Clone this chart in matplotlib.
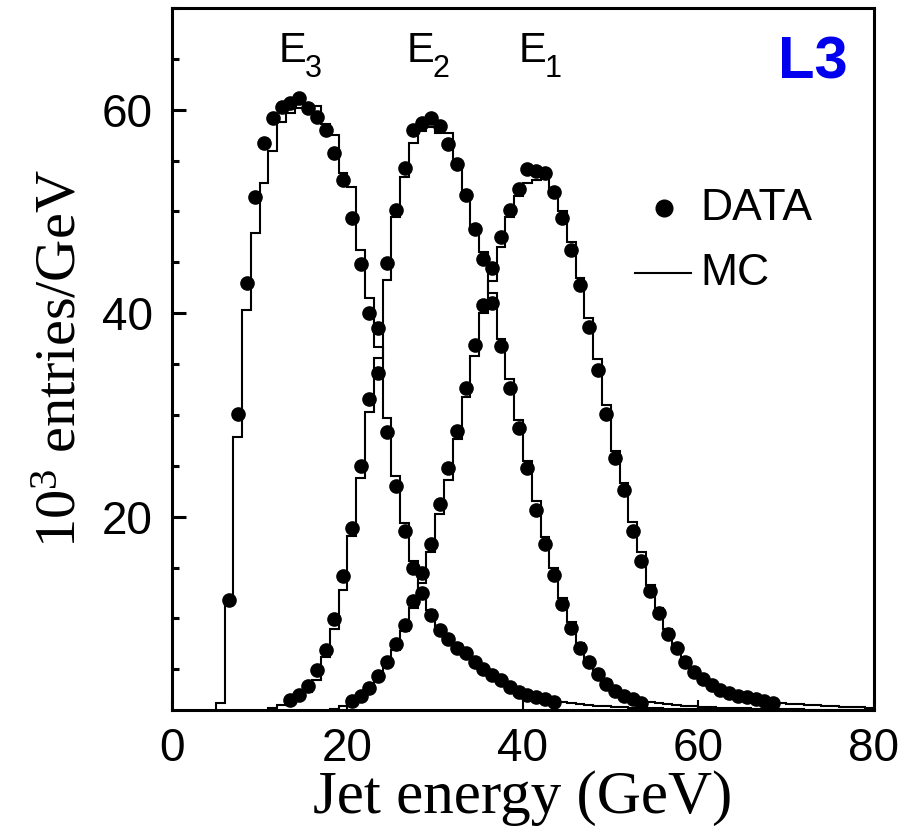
import numpy as np
import matplotlib
matplotlib.use("Agg")
import matplotlib.pyplot as plt
from matplotlib.ticker import MultipleLocator

plt.rcParams["mathtext.fontset"] = "custom"
plt.rcParams["mathtext.rm"] = "Liberation Serif"
plt.rcParams["mathtext.it"] = "Liberation Serif"

# data points, bin centres start at the given energy, 1 GeV bins
e3_start = 6.5
e3_data = [11.8, 30.1, 43.0, 51.4, 56.7, 59.2, 60.3, 60.7, 61.2, 60.2, 59.3, 58.0,
           55.7, 53.1, 49.4, 44.8, 40.0, 34.1, 28.3, 23.0, 18.6, 15.0, 12.5, 10.3,
           8.9, 8.0, 7.1, 6.6, 5.75, 5.0, 4.4, 3.9, 3.3, 2.8, 2.5, 2.25, 2.05, 1.8]
e2_start = 13.5
e2_data = [1.97, 2.5, 3.4, 4.9, 6.9, 9.95, 14.2, 18.9, 25.0, 31.6, 38.5, 44.9,
           50.1, 54.3, 58.0, 58.7, 59.2, 58.4, 56.6, 54.7, 51.6, 48.3, 45.3, 41.0,
           36.8, 32.6, 28.7, 24.8, 20.7, 17.3, 14.3, 11.4, 9.1, 7.1, 5.75, 4.5,
           3.6, 2.9, 2.4, 2.05, 1.7]
e1_start = 20.5
e1_data = [1.9, 2.4, 3.2, 4.3, 5.7, 7.5, 9.4, 11.7, 14.5, 17.3, 21.2, 24.8, 28.4,
           32.6, 36.9, 40.8, 44.4, 47.5, 50.1, 52.2, 54.2, 54.0, 53.8, 51.9, 49.4,
           46.2, 42.8, 38.6, 34.4, 30.1, 25.8, 22.6, 18.6, 15.65, 12.7, 10.5, 8.5,
           7.1, 5.75, 4.7, 4.0, 3.5, 3.0, 2.7, 2.4, 2.25, 2.05, 1.9, 1.65]

# MC histograms, first bin low edge given
mc3_start = 5
mc_e3 = [1.7, 11.8, 27.8, 40.3, 47.9, 52.8, 55.9, 58.75, 59.7, 60.2, 60.4, 60.4,
         58.6, 57.5, 53.8, 52.4, 46.2, 41.5, 36.7, 29.7, 24.0, 19.4, 15.6, 12.8,
         10.8, 9.3, 8.3, 7.5, 6.8, 6.0, 5.3, 4.7, 4.1, 3.6, 3.1, 2.7, 2.4, 2.15,
         1.95, 1.8, 1.65, 1.55, 1.45, 1.4, 1.35, 1.3, 1.25, 1.22, 1.2, 1.18, 1.16,
         1.14, 1.12, 1.1, 1.08, 1.06, 1.05, 1.04, 1.03, 1.02]
mc2_start = 11
mc_e2 = [1.2, 1.5, 1.9, 2.3, 2.8, 3.95, 6.2, 9.0, 12.8, 18.1, 23.8, 30.3, 35.6,
         43.3, 49.5, 53.4, 56.7, 57.9, 58.3, 57.7, 57.7, 54.8, 51.7, 48.2, 46.0,
         42.0, 37.5, 33.5, 29.5, 25.5, 21.5, 18.0, 15.0, 12.0, 9.6, 7.6, 6.1, 4.9,
         3.9, 3.2, 2.7, 2.3, 2.0, 1.8, 1.65, 1.55, 1.45, 1.4, 1.35, 1.3, 1.27,
         1.24, 1.21, 1.18, 1.15, 1.13, 1.11, 1.09, 1.07, 1.06, 1.05, 1.04, 1.03,
         1.02, 1.01, 1.0, 1.0, 1.0, 1.0]
mc1_start = 18
mc_e1 = [1.1, 1.4, 1.8, 2.2, 2.9, 3.9, 5.2, 6.9, 8.8, 11.0, 13.5, 16.5, 20.3,
         23.6, 27.6, 31.8, 35.8, 40.0, 43.2, 46.5, 49.5, 51.5, 52.8, 53.1, 53.8,
         52.0, 50.0, 47.0, 43.5, 39.5, 35.5, 31.0, 26.5, 23.3, 19.5, 16.5, 13.3,
         11.0, 9.0, 7.5, 6.1, 5.0, 4.2, 3.6, 3.1, 2.8, 2.5, 2.3, 2.1, 1.95, 1.8,
         1.7, 1.62, 1.56, 1.5, 1.45, 1.41, 1.37, 1.33, 1.3, 1.27, 1.24]

peak_labels = [("E", "3", 12.1), ("E", "2", 26.7), ("E", "1", 39.45)]

fig = plt.figure(figsize=(9.07, 8.33), dpi=100)
ax = fig.add_axes([0.1896, 0.1477, 0.774, 0.8427])

for start, vals in [(mc3_start, mc_e3), (mc2_start, mc_e2), (mc1_start, mc_e1)]:
    edges = np.arange(start, start + len(vals) + 1)
    ax.stairs(vals, edges, color="black", lw=1.5, baseline=0)

for start, vals in [(e3_start, e3_data), (e2_start, e2_data), (e1_start, e1_data)]:
    x = start + np.arange(len(vals))
    ax.plot(x, vals, "o", color="black", ms=9.5, zorder=3)

ax.set_xlim(0, 80)
ax.set_ylim(1, 70)
ax.xaxis.set_major_locator(MultipleLocator(20))
ax.yaxis.set_major_locator(MultipleLocator(20))
ax.yaxis.set_minor_locator(MultipleLocator(5))
ax.tick_params(axis="y", which="major", direction="in", length=10, width=2.2,
               labelsize=33, pad=14, right=False)
ax.tick_params(axis="y", which="minor", direction="in", length=5, width=2.2, right=False)
ax.tick_params(axis="x", which="major", direction="in", length=7, width=1.5,
               labelsize=33, pad=12, top=False)
for lab in ax.get_xticklabels() + ax.get_yticklabels():
    lab.set_fontfamily("Liberation Sans")
for sp in ax.spines.values():
    sp.set_linewidth(2.2)

ax.set_xlabel("Jet energy (GeV)", fontsize=44, fontfamily="Liberation Serif", labelpad=0)
ax.set_ylabel(r"10$^{3}$ entries/GeV", fontsize=42, fontfamily="Liberation Serif", labelpad=10)

for big, sub, xe in peak_labels:
    ax.text(xe, 64.7, big, fontsize=30, fontfamily="Liberation Sans", ha="left", va="baseline")
    ax.text(xe + 3.0, 63.2, sub, fontsize=22, fontfamily="Liberation Sans", ha="left", va="baseline")

ax.text(0.963, 0.90, "L3", transform=ax.transAxes, fontsize=43, fontweight="bold",
        color="#0000ee", fontfamily="Liberation Sans", ha="right", va="baseline")

# legend drawn by hand
ax.plot([0.701], [0.715], "o", color="black", ms=12, transform=ax.transAxes, clip_on=False)
ax.text(0.752, 0.715, "DATA", transform=ax.transAxes, fontsize=32,
        fontfamily="Liberation Sans", va="center", ha="left")
ax.plot([0.66, 0.74], [0.622, 0.622], color="black", lw=1.5, transform=ax.transAxes)
ax.text(0.752, 0.622, "MC", transform=ax.transAxes, fontsize=32,
        fontfamily="Liberation Sans", va="center", ha="left")

fig.savefig("out.png", dpi=100)
